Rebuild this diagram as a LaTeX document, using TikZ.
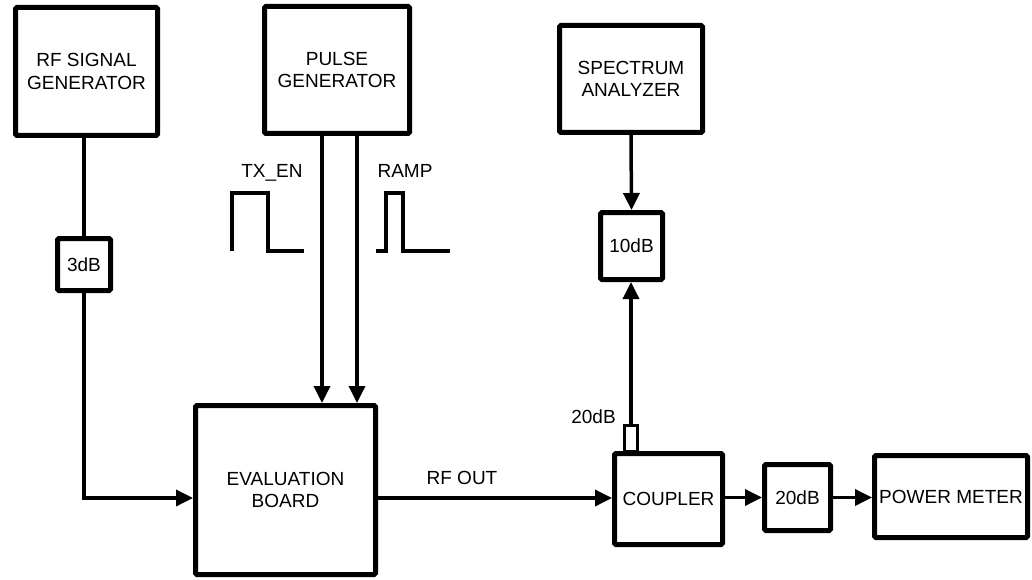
\documentclass[tikz,border=0pt]{standalone}
\usepackage{fontspec}
\setmainfont{Liberation Sans}
\usepackage{tikz}
\usetikzlibrary{arrows.meta}
\tikzstyle{instrument}=[draw, line width=5pt, rounded corners=1.5pt, align=center, inner sep=0pt, font=\fontsize{19}{22.5}\selectfont]
\tikzstyle{wire}=[line width=3.5pt]
\tikzstyle{feed}=[wire, -{Triangle[length=17pt,width=16pt]}]
\tikzstyle{tag}=[anchor=base, inner sep=0pt, font=\fontsize{19}{22.5}\selectfont]

\begin{document}
\begin{tikzpicture}[x=1pt,y=-1pt]
	\useasboundingbox (0,0) rectangle (1032,580);
	\node[instrument, minimum width=142pt, minimum height=128pt] (rfgen) at (86.5,71.5) {RF SIGNAL\\GENERATOR};
	\node[instrument, minimum width=145pt, minimum height=127pt] (pulsegen) at (337,70) {PULSE\\GENERATOR};
	\node[instrument, minimum width=143pt, minimum height=107pt] (specan) at (631,79) {SPECTRUM\\ANALYZER};
	\node[instrument, minimum width=53pt, minimum height=52pt] (att3) at (84,264.5) {3dB};
	\node[instrument, minimum width=62pt, minimum height=67pt] (att10) at (631.5,246) {10dB};
	\node[instrument, minimum width=180pt, minimum height=169pt] (board) at (285.5,490) {EVALUATION\\BOARD};
	\node[instrument, minimum width=108pt, minimum height=91pt] (coupler) at (668.5,499) {COUPLER};
	\node[instrument, minimum width=66pt, minimum height=66pt] (att20) at (797.5,497.5) {20dB};
	\node[instrument, minimum width=153pt, minimum height=82pt] (meter) at (951,496.5) {POWER METER};
	\node[draw, line width=3pt, minimum width=13pt, minimum height=26pt, inner sep=0pt] (stub) at (631,438.5) {};
	% signal paths
	\draw[wire] (rfgen.south -| att3) -- (att3.north);
	\draw[feed] (att3.south) |- ([yshift=-8pt]board.west);
	\draw[feed] (pulsegen.south -| 322,0) -- (board.north -| 322,0);
	\draw[feed] (pulsegen.south -| 357,0) -- (board.north -| 357,0);
	\draw[feed] ([yshift=-8pt]board.east) -- ([yshift=-8pt]board.east -| coupler.west);
	\draw[feed] (coupler.east |- att20) -- (att20.west);
	\draw[feed] (att20.east) -- (meter.west |- att20);
	\draw[feed] (stub.north) -- (stub.north |- att10.south);
	\draw[feed] (specan.south) -- (att10.north);
	% pulse shapes
	\draw[wire] (232,251) -- (232,193) -- (268,193) -- (268,251) -- (304,251);
	\draw[wire] (376,251) -- (386,251) -- (386,193) -- (403,193) -- (403,251) -- (450,251);
	\node[tag] (txen) at (272,177) {TX\_EN};
	\node[tag] (ramp) at (405,177) {RAMP};
	\node[tag] (rfout) at (462,484) {RF OUT};
	\node[tag] (cpl) at (593.5,423) {20dB};
\end{tikzpicture}
\end{document}
